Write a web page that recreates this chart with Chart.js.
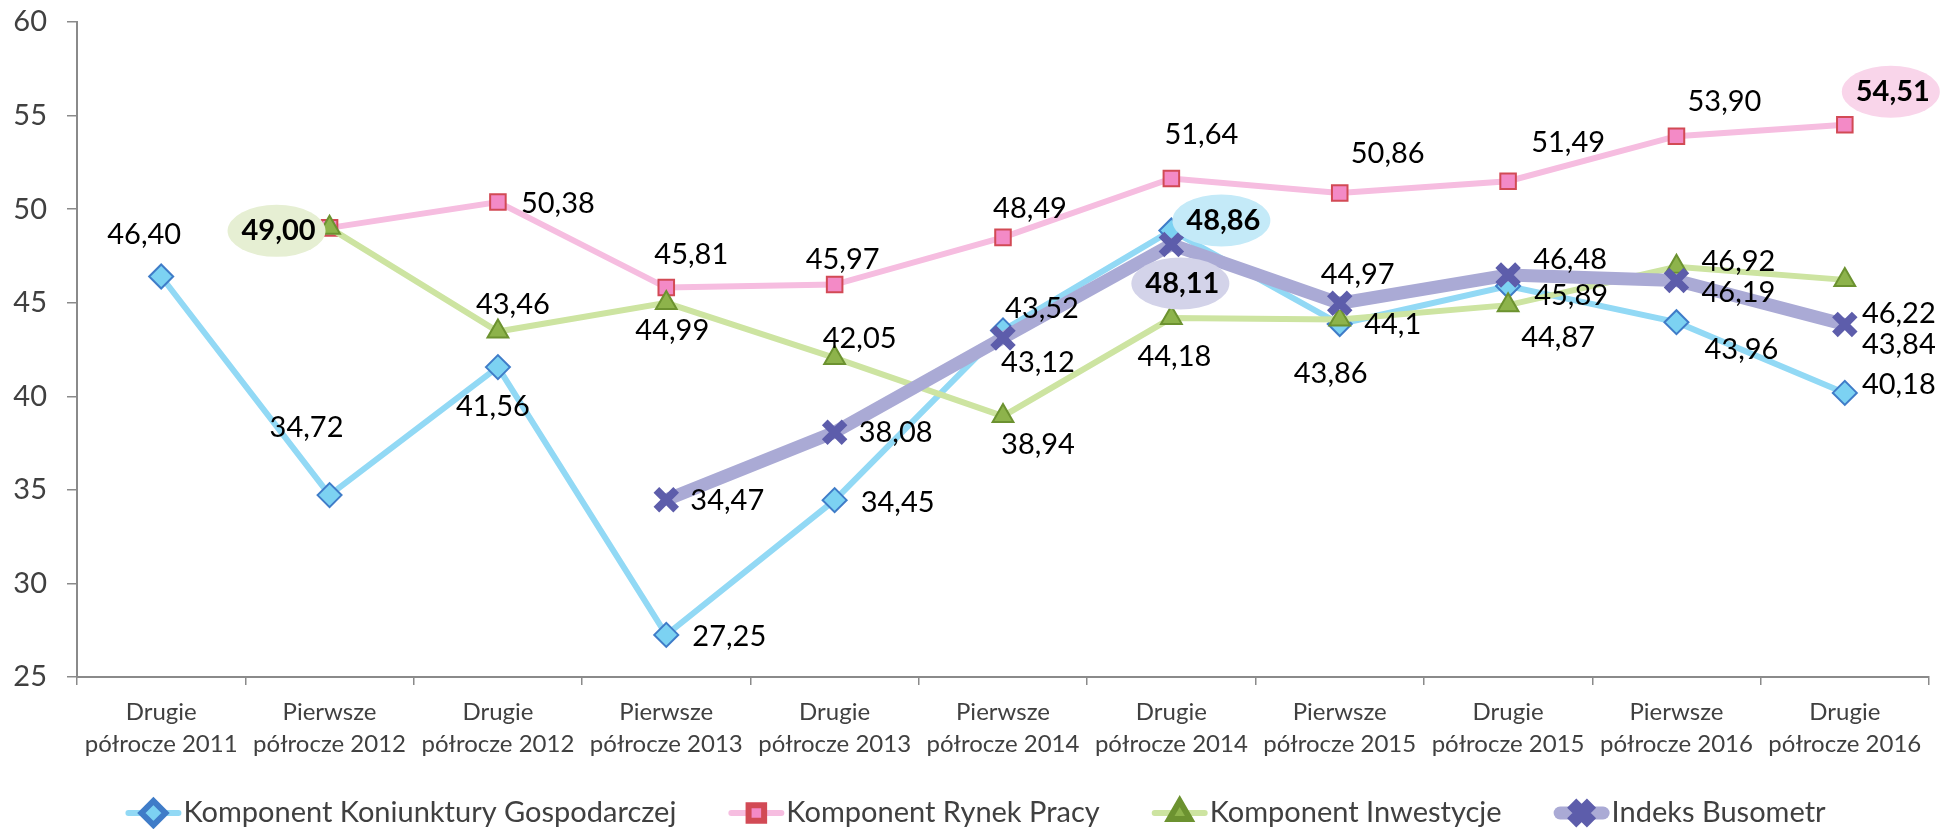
<!DOCTYPE html>
<html lang="pl">
<head>
<meta charset="utf-8">
<title>Busometr</title>
<script src="https://cdn.jsdelivr.net/npm/chart.js@4/dist/chart.umd.min.js"></script>
<style>
    html, body { margin: 0; padding: 0; background: #ffffff; }
    canvas { display: block; }
</style>
</head>
<body>
<canvas id="chartBusometr" width="1951" height="829"></canvas>
<script>
// Dane wykresu
const kategorie = [
    'Drugie półrocze 2011', 'Pierwsze półrocze 2012', 'Drugie półrocze 2012',
    'Pierwsze półrocze 2013', 'Drugie półrocze 2013', 'Pierwsze półrocze 2014',
    'Drugie półrocze 2014', 'Pierwsze półrocze 2015', 'Drugie półrocze 2015',
    'Pierwsze półrocze 2016', 'Drugie półrocze 2016'
];
const koniunktura = [46.40, 34.72, 41.56, 27.25, 34.45, 43.52, 48.86, 43.86, 45.89, 43.96, 40.18];
const rynekPracy  = [null, 49.00, 50.38, 45.81, 45.97, 48.49, 51.64, 50.86, 51.49, 53.90, 54.51];
const inwestycje  = [null, 49.00, 43.46, 44.99, 42.05, 38.94, 44.18, 44.1, 44.87, 46.92, 46.22];
const busometr    = [null, null, null, 34.47, 38.08, 43.12, 48.11, 44.97, 46.48, 46.19, 43.84];
const osY = { min: 25, max: 60, krok: 5 };

// Polozenie etykiet wzgledem punktu (px), null = bez etykiety
const przesunieciaEtykiet = [
    [[-17, -42], [-23, -67], [-5, 40], [63, 2], [63, 2], [39, -22], [52, -10], [-9, 50], [63, 10], [65, 27], [54, -8]],
    [null, null, [60, 2], [25, -33], [8, -25], [27, -29], [30, -44], [48, -39], [60, -39], [48, -35], [48, -33]],
    [null, [-51, 3], [15, -27], [6, 28], [25, -19], [35, 29], [3, 39], [53, 5], [50, 32], [62, -5], [54, 34]],
    [null, null, null, [61, 1], [61, 0], [35, 25], [11, 39], [18, -29], [62, -15], [62, 12], [54, 20]]
];
// Wyroznione (pogrubione) etykiety z tlem w elipsie
const wyroznienia = [
    { seria: 2, indeks: 1, tlo: '#e6efd3' },
    { seria: 0, indeks: 6, tlo: '#c4eaf8' },
    { seria: 3, indeks: 6, tlo: '#d3d3e9' },
    { seria: 1, indeks: 10, tlo: '#f9d5ea' }
];
const tekstyEtykiet = { '2-7': '44,1' };

const CZCIONKA = 'Lato, "Open Sans", sans-serif';

function formatLiczby(v) {
    return v.toFixed(2).replace('.', ',');
}

// Etykiety danych
const etykietyPlugin = {
    id: 'etykiety',
    afterDatasetsDraw(chart) {
        const ctx = chart.ctx;
        chart.data.datasets.forEach((ds, i) => {
            const meta = chart.getDatasetMeta(i);
            meta.data.forEach((pt, j) => {
                const v = ds.data[j];
                const p = przesunieciaEtykiet[i][j];
                if (v == null || !p) return;
                const x = pt.x + p[0];
                const y = pt.y + p[1];
                const wyr = wyroznienia.find(w => w.seria === i && w.indeks === j);
                ctx.save();
                if (wyr) {
                    ctx.fillStyle = wyr.tlo;
                    ctx.beginPath();
                    ctx.ellipse(x - 2, y, 49, 26, 0, 0, Math.PI * 2);
                    ctx.fill();
                }
                ctx.font = (wyr ? 'bold ' : '') + '29px ' + CZCIONKA;
                ctx.fillStyle = '#000000';
                ctx.textAlign = 'center';
                ctx.textBaseline = 'middle';
                ctx.fillText(tekstyEtykiet[i + '-' + j] || formatLiczby(v), x, y);
                ctx.restore();
            });
        });
    }
};

// Legenda: odcinek linii z markerem i opis
const legendaPlugin = {
    id: 'legendaExcel',
    afterDraw(chart) {
        const ctx = chart.ctx;
        const dlLinii = 56;
        const odstep = 52;
        const yLeg = 813;
        ctx.save();
        ctx.font = '29px ' + CZCIONKA;
        const szer = chart.data.datasets.map(ds => dlLinii + 2 + ctx.measureText(ds.label).width);
        const suma = szer.reduce((a, b) => a + b, 0) + odstep * (szer.length - 1);
        let x = chart.width / 2 - suma / 2;
        chart.data.datasets.forEach((ds, i) => {
            ctx.strokeStyle = ds.borderColor;
            ctx.lineWidth = ds.borderWidth;
            ctx.lineCap = 'round';
            ctx.beginPath();
            ctx.moveTo(x + ds.borderWidth / 2, yLeg);
            ctx.lineTo(x + dlLinii - ds.borderWidth / 2, yLeg);
            ctx.stroke();
            ctx.lineCap = 'butt';
            ctx.fillStyle = ds.pointBackgroundColor;
            ctx.strokeStyle = ds.pointBorderColor;
            Chart.helpers.drawPoint(ctx, {
                pointStyle: ds.pointStyle,
                radius: ds.pointRadius,
                rotation: 0,
                borderWidth: ds.pointBorderWidth
            }, x + dlLinii / 2, yLeg);
            ctx.fillStyle = '#404040';
            ctx.textAlign = 'left';
            ctx.textBaseline = 'middle';
            ctx.fillText(ds.label, x + dlLinii + 2, yLeg);
            x += szer[i] + odstep;
        });
        ctx.restore();
    }
};

const ctx = document.getElementById('chartBusometr');
new Chart(ctx, {
    type: 'line',
    data: {
        labels: kategorie,
        datasets: [{
            label: 'Komponent Koniunktury Gospodarczej',
            data: koniunktura,
            borderColor: '#92d9f5',
            borderWidth: 6,
            pointStyle: 'rectRot',
            pointRadius: 12,
            pointBackgroundColor: '#7cd2f2',
            pointBorderColor: '#3f7cc8',
            pointBorderWidth: 2,
            order: 4
        }, {
            label: 'Komponent Rynek Pracy',
            data: rynekPracy,
            borderColor: '#f6bde0',
            borderWidth: 6,
            pointStyle: 'rect',
            pointRadius: 11,
            pointBackgroundColor: '#f38ac6',
            pointBorderColor: '#d24a55',
            pointBorderWidth: 2,
            order: 3
        }, {
            label: 'Komponent Inwestycje',
            data: inwestycje,
            borderColor: '#cde4a1',
            borderWidth: 6,
            pointStyle: 'triangle',
            pointRadius: 12,
            pointBackgroundColor: '#8db34b',
            pointBorderColor: '#6c9230',
            pointBorderWidth: 2,
            order: 2
        }, {
            label: 'Indeks Busometr',
            data: busometr,
            borderColor: '#aaaad5',
            borderWidth: 13,
            pointStyle: 'crossRot',
            pointRadius: 14,
            pointBackgroundColor: '#5d5dab',
            pointBorderColor: '#5d5dab',
            pointBorderWidth: 8,
            order: 1
        }]
    },
    options: {
        responsive: false,
        animation: false,
        layout: { padding: { top: 19, right: 10, bottom: 62, left: 0 } },
        elements: { line: { tension: 0 } },
        plugins: {
            legend: { display: false },
            tooltip: { enabled: false }
        },
        scales: {
            x: {
                offset: true,
                grid: { offset: true, drawOnChartArea: false, tickLength: 8, color: '#8a8a8a', lineWidth: 1.5 },
                border: { color: '#8a8a8a', width: 2 },
                ticks: {
                    color: '#404040',
                    padding: 12,
                    maxRotation: 0,
                    autoSkip: false,
                    font: { family: CZCIONKA, size: 24, lineHeight: 1.3 },
                    callback: function(value) {
                        const t = this.getLabelForValue(value);
                        const k = t.indexOf(' ');
                        return [t.slice(0, k), t.slice(k + 1)];
                    }
                },
                afterFit: function(scale) {
                    scale.height = 90;
                    scale.paddingLeft = 0;
                    scale.paddingRight = 0;
                }
            },
            y: {
                min: osY.min,
                max: osY.max,
                grid: { drawOnChartArea: false, tickLength: 10, color: '#8a8a8a', lineWidth: 1.5 },
                border: { color: '#8a8a8a', width: 2 },
                ticks: {
                    stepSize: osY.krok,
                    color: '#404040',
                    padding: 20,
                    font: { family: CZCIONKA, size: 29 }
                },
                afterFit: function(scale) {
                    scale.width = 77;
                    scale.paddingTop = 0;
                    scale.paddingBottom = 0;
                }
            }
        }
    },
    plugins: [etykietyPlugin, legendaPlugin]
});
</script>
</body>
</html>
